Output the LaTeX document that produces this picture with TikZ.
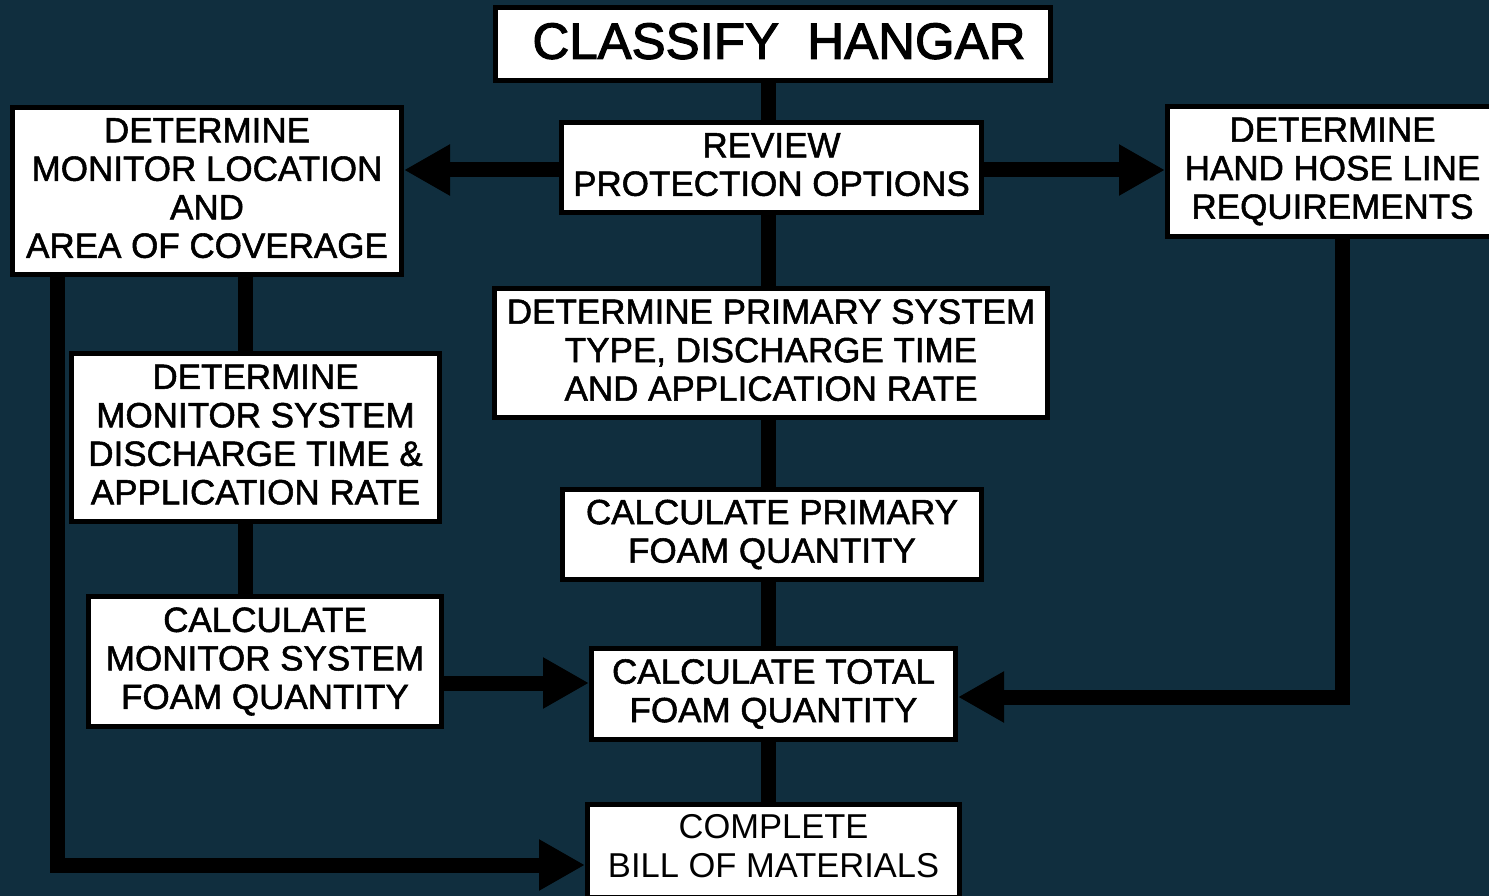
\documentclass[tikz,border=0pt]{standalone}
\usepackage{fontspec}
\setmainfont{Liberation Sans}
\newfontfamily\heavy{Liberation Sans}[FakeBold=1.5]
\newfontfamily\titlefont{Liberation Sans}[FakeBold=2.2]
\newfontfamily\lite{Liberation Sans}
\usetikzlibrary{arrows.meta,calc}
\definecolor{bgnavy}{RGB}{16,46,62}
\tikzset{
  stepbox/.style={draw=black, line width=5pt, fill=white, inner sep=0pt, align=center,
    font=\heavy\fontsize{35}{38.5}\selectfont,
    execute at end node={\rule[-6pt]{0pt}{6pt}}},
  conn/.style={draw=black, line width=15pt},
  arr/.style={conn, -{Triangle[length=46pt,width=48pt]}},
}
\begin{document}
\begin{tikzpicture}[x=1pt,y=-1pt]
\fill[bgnavy] (0,0) rectangle (1489,896);
\useasboundingbox (0,0) rectangle (1489,896);

% nodes (centre, size = outer - 5)
\node[stepbox, minimum width=555pt, minimum height=73pt, font=\titlefont\fontsize{51}{56}\selectfont]
  (hangar) at (773,44) {\hspace*{12pt}CLASSIFY\ \ HANGAR};
\node[stepbox, minimum width=389pt, minimum height=167pt] (monloc) at (207,191)
  {DETERMINE\\MONITOR LOCATION\\AND\\AREA OF COVERAGE};
\node[stepbox, minimum width=420pt, minimum height=90pt] (review) at (771.5,167.5)
  {REVIEW\\PROTECTION OPTIONS};
\node[stepbox, minimum width=330pt, minimum height=130pt] (hose) at (1332.5,171.5)
  {DETERMINE\\HAND HOSE LINE\\REQUIREMENTS};
\node[stepbox, minimum width=553pt, minimum height=129pt] (primary) at (771,353)
  {DETERMINE PRIMARY SYSTEM\\TYPE, DISCHARGE TIME\\AND APPLICATION RATE};
\node[stepbox, minimum width=368pt, minimum height=168pt] (monsys) at (255.5,437.5)
  {DETERMINE\\MONITOR SYSTEM\\DISCHARGE TIME \&\\APPLICATION RATE};
\node[stepbox, minimum width=419pt, minimum height=90pt] (calcprim) at (772,534.5)
  {CALCULATE PRIMARY\\FOAM QUANTITY};
\node[stepbox, minimum width=353pt, minimum height=130pt] (calcmon) at (265,661.5)
  {CALCULATE\\MONITOR SYSTEM\\FOAM QUANTITY};
\node[stepbox, minimum width=364pt, minimum height=91pt] (total) at (773.5,694)
  {CALCULATE TOTAL\\FOAM QUANTITY};
\node[stepbox, minimum width=372pt, minimum height=93pt, font=\lite\fontsize{34.5}{38.5}\selectfont,
  execute at end node={\rule[-10pt]{0pt}{10pt}}]
  (bill) at (773.5,851) {COMPLETE\\BILL OF MATERIALS};

% guide coordinates
\coordinate (spine) at (768,0);
\coordinate (lmid) at (245,0);
\coordinate (lout) at (57,0);
\coordinate (hx) at (1342,0);
\coordinate (ya) at (0,170);
\coordinate (yb) at (0,683);
\coordinate (yc) at (0,697);
\coordinate (yd) at (0,865);

% central spine
\draw[conn] (hangar.south -| spine) -- (review.north -| spine);
\draw[conn] (review.south -| spine) -- (primary.north -| spine);
\draw[conn] (primary.south -| spine) -- (calcprim.north -| spine);
\draw[conn] (calcprim.south -| spine) -- (total.north -| spine);
\draw[conn] (total.south -| spine) -- (bill.north -| spine);

% side arrows from review
\draw[arr] (review.west |- ya) -- (monloc.east |- ya);
\draw[arr] (review.east |- ya) -- (hose.west |- ya);

% left chain
\draw[conn] (monloc.south -| lmid) -- (monsys.north -| lmid);
\draw[conn] (monsys.south -| lmid) -- (calcmon.north -| lmid);
\draw[arr] (calcmon.east |- yb) -- (total.west |- yb);

% hand hose to total
\draw[arr] (hose.south -| hx) -- (hx |- yc) -- (total.east |- yc);

% monitor location to bill
\draw[arr] (monloc.south -| lout) -- (lout |- yd) -- (bill.west |- yd);
\end{tikzpicture}
\end{document}
